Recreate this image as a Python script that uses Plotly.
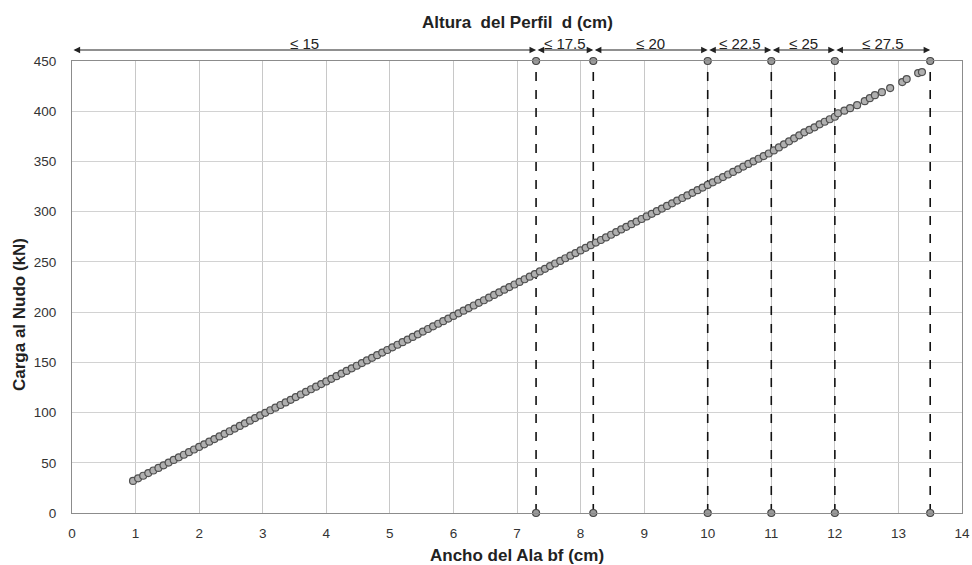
import plotly.graph_objects as go

# Scatter data: flange width bf (cm) vs joint load (kN)
bf = [0.96, 1.04, 1.12, 1.20, 1.28, 1.36, 1.44, 1.52, 1.60, 1.68, 1.76, 1.84, 1.92, 2.00,
      2.08, 2.16, 2.24, 2.32, 2.40, 2.48, 2.56, 2.64, 2.72, 2.80, 2.88, 2.96, 3.04, 3.12,
      3.20, 3.28, 3.36, 3.44, 3.52, 3.60, 3.68, 3.76, 3.84, 3.92, 4.00, 4.08, 4.16, 4.24,
      4.32, 4.40, 4.48, 4.56, 4.64, 4.72, 4.80, 4.88, 4.96, 5.04, 5.12, 5.20, 5.28, 5.36,
      5.44, 5.52, 5.60, 5.68, 5.76, 5.84, 5.92, 6.00, 6.08, 6.16, 6.24, 6.32, 6.40, 6.48,
      6.56, 6.64, 6.72, 6.80, 6.88, 6.96, 7.04, 7.12, 7.20, 7.28, 7.36, 7.44, 7.52, 7.60,
      7.68, 7.76, 7.84, 7.92, 8.00, 8.08, 8.16, 8.24, 8.32, 8.40, 8.48, 8.56, 8.64, 8.72,
      8.80, 8.88, 8.96, 9.04, 9.12, 9.20, 9.28, 9.36, 9.44, 9.52, 9.60, 9.68, 9.76, 9.84,
      9.92, 10.00, 10.08, 10.16, 10.24, 10.32, 10.40, 10.48, 10.56, 10.64, 10.72, 10.80,
      10.88, 10.96, 11.04, 11.12, 11.20, 11.28, 11.36, 11.44, 11.52, 11.60, 11.68, 11.76,
      11.84, 11.92, 12.00,
      12.05, 12.15, 12.24, 12.35, 12.47, 12.55, 12.63, 12.74, 12.87, 13.06, 13.13, 13.31, 13.37]
carga = [31.9, 34.5, 37.1, 39.7, 42.3, 44.9, 47.5, 50.2, 52.8, 55.4, 58.0, 60.6, 63.2, 65.8,
         68.4, 71.0, 73.6, 76.2, 78.8, 81.4, 84.1, 86.7, 89.3, 91.9, 94.5, 97.1, 99.7, 102.3,
         104.9, 107.5, 110.1, 112.7, 115.4, 118.0, 120.6, 123.2, 125.8, 128.4, 131.0, 133.6,
         136.2, 138.8, 141.4, 144.0, 146.6, 149.3, 151.9, 154.5, 157.1, 159.7, 162.3, 164.9,
         167.5, 170.1, 172.7, 175.3, 177.9, 180.6, 183.2, 185.8, 188.4, 191.0, 193.6, 196.2,
         198.8, 201.4, 204.0, 206.6, 209.2, 211.8, 214.5, 217.1, 219.7, 222.3, 224.9, 227.5,
         230.1, 232.7, 235.3, 237.9, 240.5, 243.1, 245.8, 248.4, 251.0, 253.6, 256.2, 258.8,
         261.4, 264.0, 266.6, 269.2, 271.8, 274.4, 277.0, 279.7, 282.3, 284.9, 287.5, 290.1,
         292.7, 295.3, 297.9, 300.5, 303.1, 305.7, 308.3, 311.0, 313.6, 316.2, 318.8, 321.4,
         324.0, 326.6, 329.2, 331.8, 334.4, 337.0, 339.6, 342.2, 344.9, 347.5, 350.1, 352.7,
         355.3, 357.9, 361.0, 364.0, 367.0, 370.0, 373.0, 376.0, 379.0, 381.5, 384.0, 387.0,
         389.5, 392.0, 394.5,
         398.0, 400.5, 403.0, 406.0, 410.0, 413.0, 416.0, 419.0, 423.0, 429.0, 432.0, 438.0, 439.0]

# Depth-range limits (cm of bf) and their labels
limites = [0.0, 7.3, 8.2, 10.0, 11.0, 12.0, 13.5]
etiquetas = ["≤ 15", "≤ 17.5", "≤ 20", "≤ 22.5", "≤ 25", "≤ 27.5"]
y_min, y_max = 0, 450

x_ticks = list(range(0, 15))
y_ticks = list(range(0, 451, 50))

FONT = "Liberation Sans, Arial, sans-serif"
fig = go.Figure()

# Dashed vertical limit lines
for xv in limites[1:]:
    fig.add_trace(go.Scatter(
        x=[xv, xv], y=[y_min, y_max], mode="lines+markers",
        line=dict(color="#111111", width=1.6, dash="dash"),
        marker=dict(size=7, color="#9a9a9a", line=dict(color="#444444", width=1.2)),
        cliponaxis=False, showlegend=False, hoverinfo="skip"))

fig.add_trace(go.Scatter(
    x=bf, y=carga, mode="markers",
    marker=dict(size=7, color="#b0b0b0", line=dict(color="#505050", width=1.2)),
    cliponaxis=False, showlegend=False))

# Range arrows + labels (placed just above the plot area)
y_arrow = 1.0243
for i, lab in enumerate(etiquetas):
    x0, x1 = limites[i], limites[i + 1]
    fig.add_annotation(x=x1, y=y_arrow, ax=x0, ay=0, xref="x", yref="paper",
                       axref="x", ayref="pixel", text="", showarrow=True,
                       arrowhead=2, startarrowhead=2, arrowside="end+start",
                       arrowsize=1.1, startarrowsize=1.1, arrowwidth=1.2,
                       arrowcolor="#222222")
    fig.add_annotation(x=(x0 + x1) / 2, y=1.0, xref="x", yref="paper", text=lab,
                       showarrow=False, yanchor="middle", yshift=18,
                       font=dict(family=FONT, size=15, color="#222222"))

fig.add_annotation(x=0.5, y=1.0, xref="paper", yref="paper", yanchor="middle",
                   yshift=39, text="<b>Altura  del Perfil  d (cm)</b>", showarrow=False,
                   font=dict(family=FONT, size=17, color="#222222"))
fig.add_annotation(x=0.5, y=0.0, xref="paper", yref="paper", yanchor="middle",
                   yshift=-42, text="<b>Ancho del Ala bf (cm)</b>", showarrow=False,
                   font=dict(family=FONT, size=17, color="#222222"))
fig.add_annotation(x=0.0, y=0.438, xref="paper", yref="paper", xanchor="center",
                   xshift=-53, textangle=-90, text="<b>Carga al Nudo (kN)</b>",
                   showarrow=False, font=dict(family=FONT, size=17, color="#222222"))

fig.update_layout(
    width=972, height=565,
    margin=dict(l=72, r=10, t=61, b=52, autoexpand=False),
    paper_bgcolor="white", plot_bgcolor="white",
    font=dict(family=FONT, size=13, color="#333333"),
    xaxis=dict(range=[0, 14], tickvals=x_ticks, showgrid=True, gridcolor="#c8c8c8",
               gridwidth=1, showline=True, linecolor="#8c8c8c", linewidth=1.2,
               mirror=True, zeroline=False, ticks="", ticklen=0, automargin=False,
               ticklabelstandoff=8, ticklabeloverflow="allow",
               tickfont=dict(size=13.5, color="#333333")),
    yaxis=dict(range=[0, 450], tickvals=y_ticks, showgrid=True, gridcolor="#d2d2d2",
               gridwidth=1, showline=True, linecolor="#8c8c8c", linewidth=1.2,
               mirror=True, zeroline=False, ticks="", ticklen=0, automargin=False,
               ticklabelstandoff=12, tickfont=dict(size=13.5, color="#333333")),
)

# Remove the default 8 px page margin so the figure fills the 972x565 window exactly
fig.write_html("out.html", config={"displayModeBar": False},
               post_script="document.body.style.margin='0';document.body.style.overflow='hidden';")
